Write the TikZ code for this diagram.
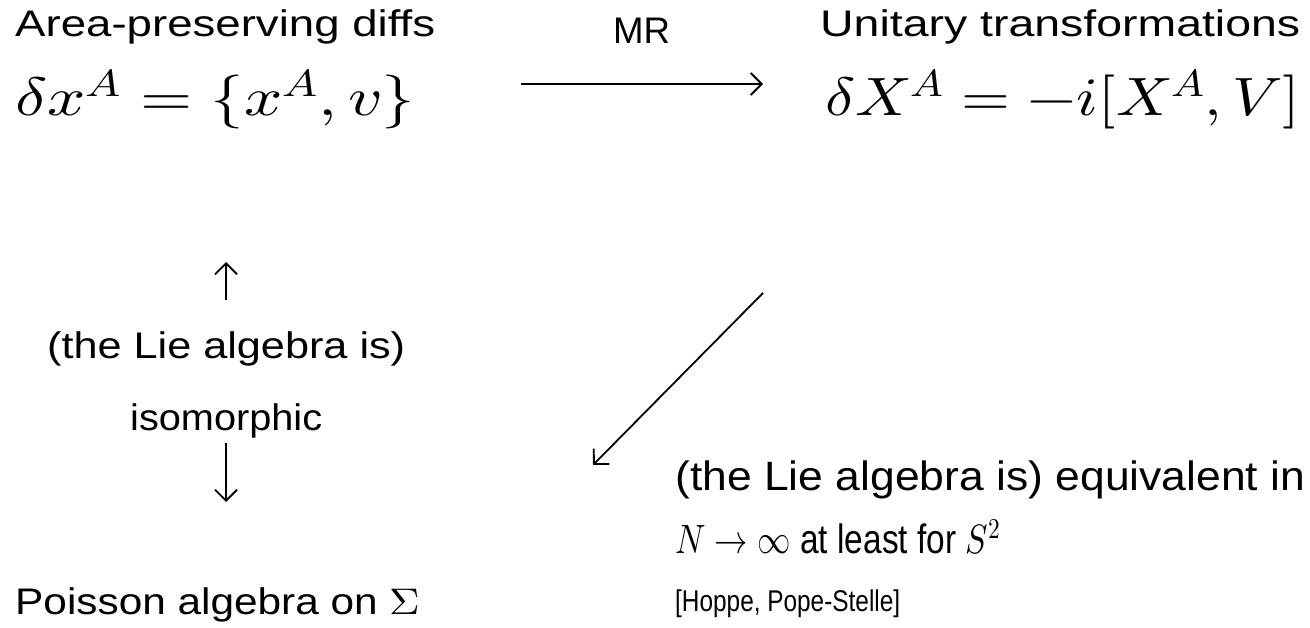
\documentclass[tikz,border=0pt]{standalone}
\usepackage{fontspec}
\usepackage{unicode-math}
\setmainfont{Liberation Sans}
\setmathfont{Latin Modern Math}
\usetikzlibrary{arrows.meta}
\newcommand\fitw[2]{\resizebox{#1}{\height}{#2}}
\begin{document}
\begin{tikzpicture}[x=1pt,y=-1pt,
  big/.style={font=\fontsize{37}{40}\selectfont, inner sep=0pt, anchor=base west},
  tall/.style={font=\fontsize{41}{44}\selectfont, inner sep=0pt, anchor=base west},
  eq/.style={font=\fontsize{54}{58}\selectfont, inner sep=0pt, anchor=base west},
  arr/.style={line width=1.8pt, -{Straight Barb[length=11pt,width=22pt,line width=1.8pt]}}]
\useasboundingbox (0,0) rectangle (1310,628);
\node[big] (apd) at (15,37) {\fitw{420pt}{Area-preserving diffs}};
\node[eq] (eqa) at (15,116) {\fitw{400pt}{$\delta x^A = \{x^A, v\}$}};
\node[big] (mr) at (613,44) {\fitw{57pt}{MR}};
\node[big] (ut) at (820,37) {\fitw{480pt}{Unitary transformations}};
\node[eq] (eqb) at (825,116) {\fitw{475pt}{$\delta X^A = -i[X^A, V]$}};
\node[big] (lie) at (47,359) {\fitw{358pt}{(the Lie algebra is)}};
\node[big] (iso) at (130,430) {\fitw{192pt}{isomorphic}};
\node[big] (pa) at (15,614) {\fitw{405pt}{Poisson algebra on $\Sigma$}};
\node[tall] (eqv) at (675,490) {\fitw{630pt}{(the Lie algebra is) equivalent in}};
\node[tall] (lim) at (675,553) {\fitw{325pt}{$N \to \infty$ at least for $S^2$}};
\node[big, font=\fontsize{30}{34}\selectfont] (ref) at (675,611) {\fitw{225pt}{[Hoppe, Pope-Stelle]}};
\coordinate (a1) at (521,84);
\coordinate (a2) at (763,84);
\coordinate (u1) at (226,300);
\coordinate (u2) at (226,262);
\coordinate (d1) at (226,443);
\coordinate (d2) at (226,502);
\coordinate (g1) at (763,293);
\coordinate (g2) at (593,465);
\draw[arr] (a1) -- (a2);
\draw[arr] (u1) -- (u2);
\draw[arr] (d1) -- (d2);
\draw[arr] (g1) -- (g2);
\end{tikzpicture}
\end{document}
